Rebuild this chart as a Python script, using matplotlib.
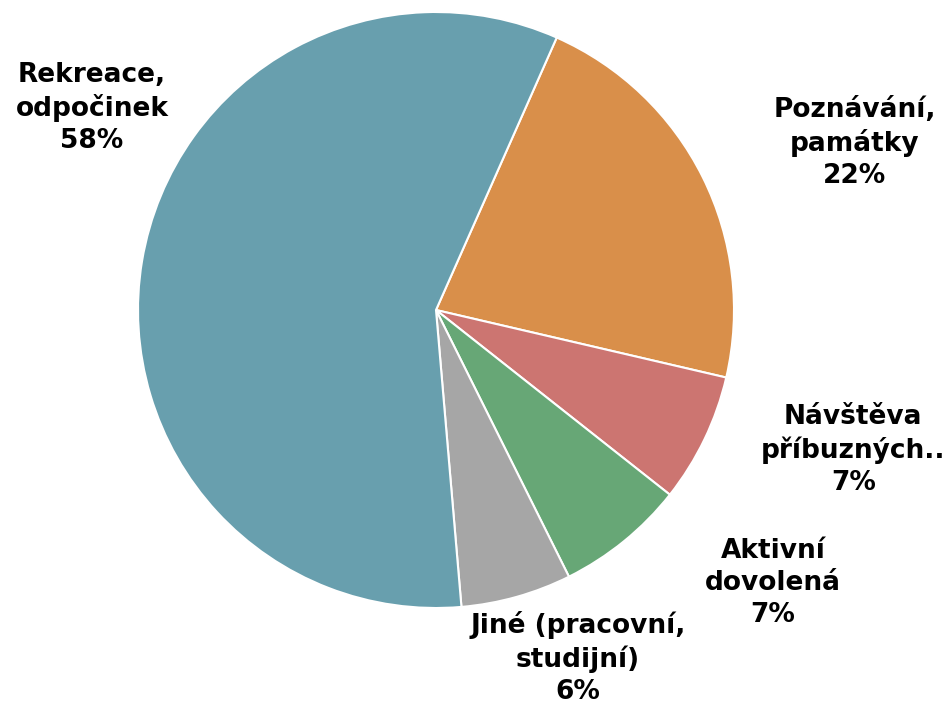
import matplotlib
matplotlib.use("Agg")
import matplotlib.pyplot as plt

# share of holiday purposes, clockwise from the top
labels = ["Poznávání,\npamátky", "Návštěva\npříbuzných..", "Aktivní\ndovolená",
          "Jiné (pracovní,\nstudijní)", "Rekreace,\nodpočinek"]
values = [22, 7, 7, 6, 58]
colors = ["#D98F4A", "#CC7571", "#67A776", "#A6A6A6", "#689FAE"]

# label centres in units of the pie radius
label_pos = [(1.406, 0.560), (1.400, -0.470), (1.131, -0.916),
             (0.477, -1.168), (-1.154, 0.678)]

W, H, dpi = 944, 704, 100
cx, cy, r = 436, 310, 298  # pie centre and radius in pixels

fig = plt.figure(figsize=(W / dpi, H / dpi), dpi=dpi)
ax = fig.add_axes([0, 0, 1, 1])

ax.pie(values, colors=colors, startangle=66.1, counterclock=False,
       wedgeprops=dict(edgecolor="white", linewidth=1.5))

for lab, v, (x, y) in zip(labels, values, label_pos):
    ax.text(x, y, f"{lab}\n{v}%", ha="center", va="center",
            fontsize=19, fontweight="bold", linespacing=1.3,
            family="DejaVu Sans", color="black")

ax.set_xlim(-cx / r, (W - cx) / r)
ax.set_ylim(-(H - cy) / r, cy / r)
ax.set_aspect("equal")
ax.axis("off")

fig.savefig("out.png", dpi=dpi)
